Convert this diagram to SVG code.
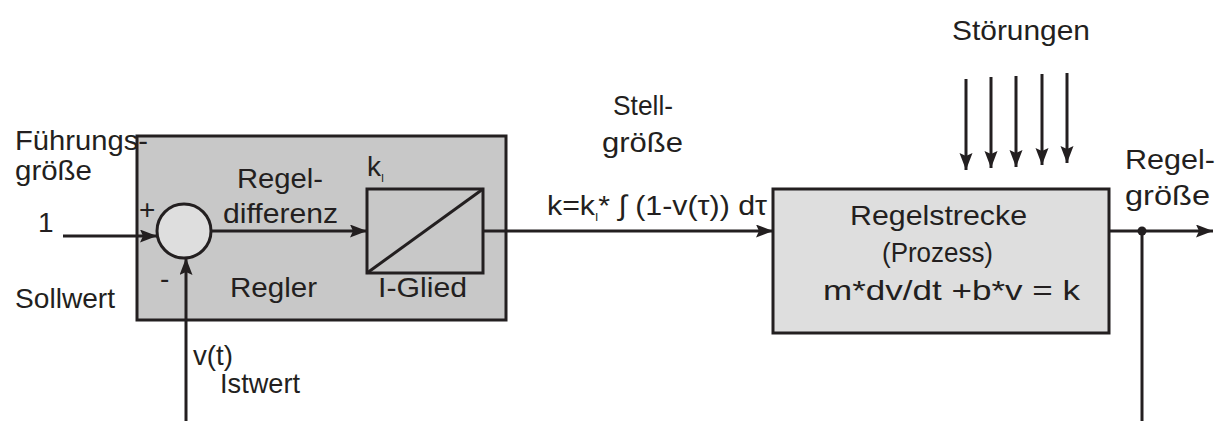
<svg xmlns="http://www.w3.org/2000/svg" width="1223" height="421" viewBox="0 0 1223 421">
<defs>
<marker id="arr" markerUnits="userSpaceOnUse" markerWidth="18" markerHeight="14" refX="17" refY="6.5" orient="auto">
<path d="M0,0 L17,6.5 L0,13 L3,6.5 z" fill="#231f20"/>
</marker>
<style>
text{font-family:"Liberation Sans",Arial,sans-serif;font-size:28px;fill:#231f20}
.sub{font-size:11px}
.ln{stroke:#231f20;stroke-width:3;fill:none}
.box{stroke:#231f20;stroke-width:3}
</style>
</defs>
<rect width="1223" height="421" fill="#ffffff"/>
<g id="regler">
<rect class="box" x="137" y="136" width="369" height="184" fill="#c8c8c8"/>
<text x="237" y="188" textLength="86" lengthAdjust="spacingAndGlyphs">Regel-</text>
<text x="223" y="223" textLength="115" lengthAdjust="spacingAndGlyphs">differenz</text>
<text x="230" y="297" textLength="87" lengthAdjust="spacingAndGlyphs">Regler</text>
</g>
<g id="summer">
<circle class="box" cx="184" cy="231" r="27" fill="#dedede"/>
<text x="139" y="219" font-size="24">+</text>
<text x="160" y="288">-</text>
</g>
<g id="iglied">
<rect class="box" x="367" y="189" width="116" height="84" fill="#c8c8c8"/>
<line class="ln" x1="367" y1="273" x2="483" y2="189"/>
<text x="367" y="176">k<tspan class="sub" dy="6">I</tspan></text>
<text x="378" y="297" textLength="89" lengthAdjust="spacingAndGlyphs">I-Glied</text>
</g>
<g id="regelstrecke">
<rect class="box" x="773" y="189" width="336" height="144" fill="#dedede"/>
<text x="850" y="225" textLength="177" lengthAdjust="spacingAndGlyphs">Regelstrecke</text>
<text x="882" y="262" textLength="111" lengthAdjust="spacingAndGlyphs">(Prozess)</text>
<text x="823" y="300" textLength="257" lengthAdjust="spacingAndGlyphs">m*dv/dt +b*v = k</text>
</g>
<g id="labels">
<text x="15" y="150" textLength="133" lengthAdjust="spacingAndGlyphs">Führungs-</text>
<text x="15" y="180" textLength="77" lengthAdjust="spacingAndGlyphs">größe</text>
<text x="38" y="232">1</text>
<text x="15" y="308" textLength="100" lengthAdjust="spacingAndGlyphs">Sollwert</text>
<text x="193" y="365" textLength="40" lengthAdjust="spacingAndGlyphs">v(t)</text>
<text x="220" y="393" textLength="80" lengthAdjust="spacingAndGlyphs">Istwert</text>
<text x="613" y="115" textLength="60" lengthAdjust="spacingAndGlyphs">Stell-</text>
<text x="602" y="152" textLength="81" lengthAdjust="spacingAndGlyphs">größe</text>
<text x="547" y="215" textLength="220" lengthAdjust="spacingAndGlyphs">k=k<tspan class="sub" dy="6">I</tspan><tspan dy="-6">* ∫ (1-v(τ)) dτ</tspan></text>
<text x="952" y="40" textLength="138" lengthAdjust="spacingAndGlyphs">Störungen</text>
<text x="1125" y="169" textLength="90" lengthAdjust="spacingAndGlyphs">Regel-</text>
<text x="1125" y="205" textLength="85" lengthAdjust="spacingAndGlyphs">größe</text>
</g>
<g id="connectors">
<line class="ln" x1="63" y1="236" x2="157" y2="236" marker-end="url(#arr)"/>
<line class="ln" x1="186" y1="421" x2="186" y2="258" marker-end="url(#arr)"/>
<line class="ln" x1="211" y1="231" x2="367" y2="231" marker-end="url(#arr)"/>
<line class="ln" x1="483" y1="231" x2="773" y2="231" marker-end="url(#arr)"/>
<line class="ln" x1="1109" y1="231" x2="1213" y2="231" marker-end="url(#arr)"/>
<circle cx="1142" cy="231" r="4.5" fill="#231f20"/>
<line class="ln" x1="1142" y1="231" x2="1142" y2="421"/>
<line class="ln" x1="966" y1="79" x2="966" y2="170" marker-end="url(#arr)"/>
<line class="ln" x1="991" y1="77" x2="991" y2="168" marker-end="url(#arr)"/>
<line class="ln" x1="1016" y1="76" x2="1016" y2="167" marker-end="url(#arr)"/>
<line class="ln" x1="1042" y1="74" x2="1042" y2="165" marker-end="url(#arr)"/>
<line class="ln" x1="1067" y1="73" x2="1067" y2="163" marker-end="url(#arr)"/>
</g>
</svg>
